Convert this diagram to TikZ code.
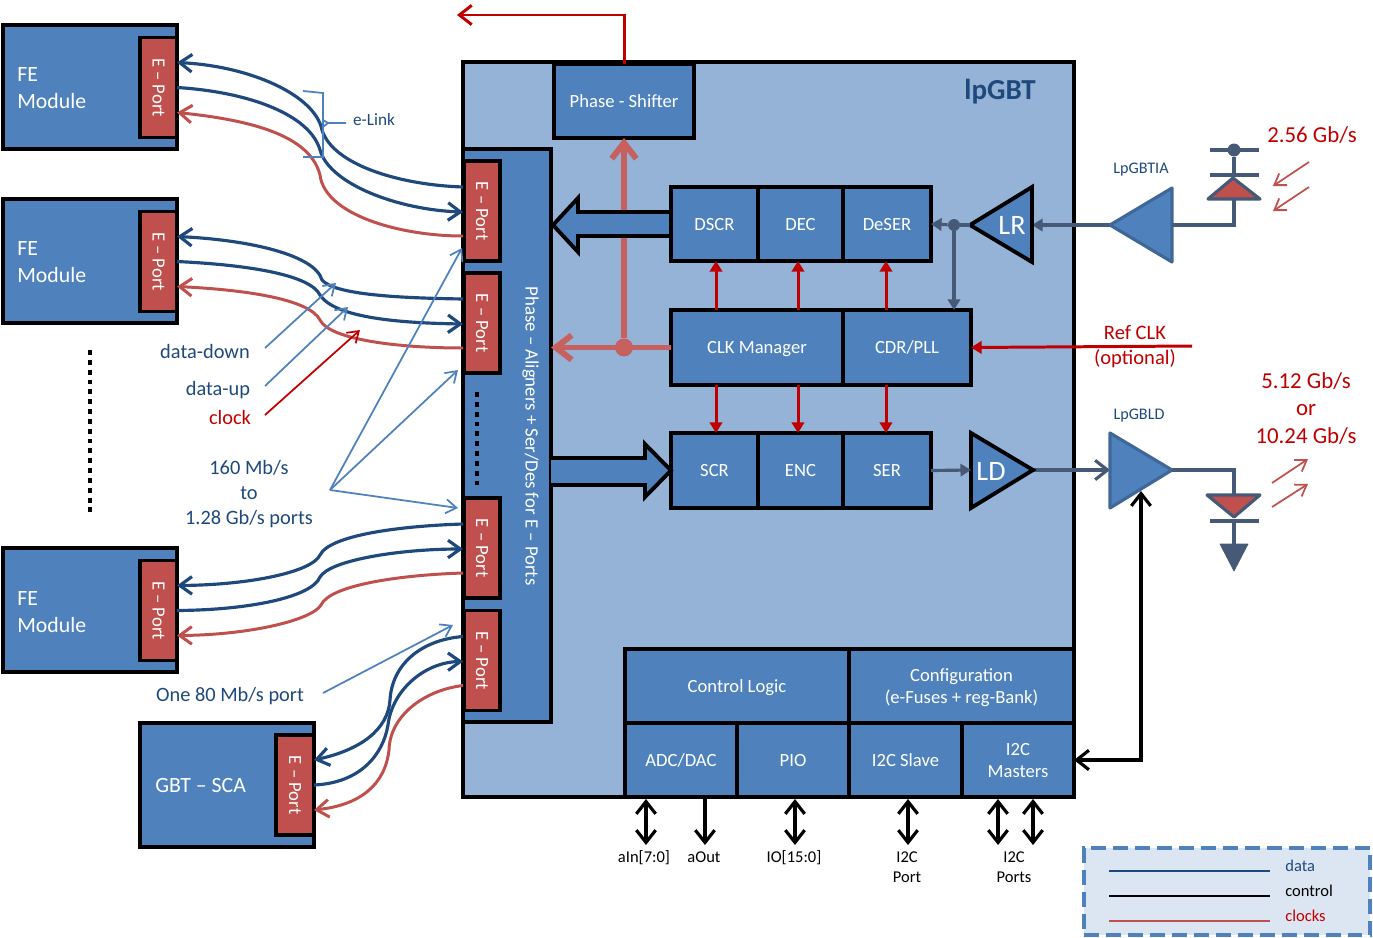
\documentclass[tikz,border=0pt]{standalone}
\usepackage{fontspec}
\usepackage{graphicx}
\setmainfont{Carlito}
\usetikzlibrary{arrows.meta,calc,positioning}
\definecolor{blokMavi}{HTML}{4F81BD}
\definecolor{zeminMavi}{HTML}{95B3D7}
\definecolor{koyuMavi}{HTML}{1F497D}
\definecolor{portKirmizi}{HTML}{C0504D}
\definecolor{saatKirmizi}{HTML}{C00000}
\definecolor{griMavi}{HTML}{465A78}
\definecolor{aciklama}{HTML}{DCE6F2}

\begin{document}
\begin{tikzpicture}[x=0.02cm,y=-0.02cm,
  bsize/.style n args={2}{minimum width=#1*0.02cm,minimum height=#2*0.02cm},
  blok/.style={draw=black,fill=blokMavi,line width=2.2pt,inner sep=0pt,outer sep=0pt,text=white,align=center,
               text depth=-1.2pt,font=\fontsize{10.6}{12.5}\selectfont},
  eport/.style={blok,text depth=,fill=portKirmizi,bsize={36}{100}},
  fekutu/.style={blok,bsize={174}{124}},
  fetext/.style={text=white,align=left,anchor=west,inner sep=0pt,font=\fontsize{12.4}{15.3}\selectfont},
  etiket/.style={text=koyuMavi,align=center,inner sep=0pt,font=\fontsize{11.6}{14.2}\selectfont},
  kucuk/.style={text=black,align=center,inner sep=0pt,font=\fontsize{9.4}{11.4}\selectfont},
  hiz/.style={text=saatKirmizi,align=center,inner sep=0pt,font=\fontsize{13}{15.6}\selectfont},
  data/.style={koyuMavi,line width=1.8pt},
  saat/.style={portKirmizi,line width=1.7pt},
  ucdata/.style={-{Straight Barb[length=7pt,width=10pt]}},
  isaret/.style={blokMavi,line width=1pt,-{Straight Barb[length=6pt,width=8pt]}},
  kontrol/.style={black,line width=1.8pt,{Straight Barb[length=7pt,width=11pt]}-{Straight Barb[length=7pt,width=11pt]}},
  kalinSaat/.style={color=portKirmizi!90!white,line width=3.4pt,-{Straight Barb[length=9pt,width=14pt]}},
  inceSaat/.style={saatKirmizi,line width=1.7pt,-{Triangle[length=6pt,width=7pt]}},
  griOk/.style={griMavi,line width=1.8pt,-{Triangle[length=6pt,width=7pt]}},
  griHat/.style={griMavi,line width=1.8pt},
  genisOk/.style={draw=black,fill=blokMavi,line width=2.2pt,line join=miter},
  yukselt/.style={draw=blokMavi!80!black,fill=blokMavi,line width=1.8pt,line join=round},
  isik/.style={portKirmizi,line width=1pt,-{Straight Barb[length=6pt,width=8pt]}},
  noktali/.style={black,line width=2.8pt,dash pattern=on 2.8pt off 2.8pt}]
\useasboundingbox (0,0) rectangle (1373,937);

% FE modules
\node[fekutu] (feA) at (90,87) {};
\node[fekutu] (feB) at (90,261) {};
\node[fekutu] (feC) at (90,610) {};
\node[fekutu] (sca) at (227,785) {};
\node[eport,bsize={37}{100}] (fePortA) at (158.5,87.5) {\rotatebox{-90}{E -- Port}};
\node[eport,bsize={37}{100}] (fePortB) at (158.5,261.5) {\rotatebox{-90}{E -- Port}};
\node[eport,bsize={37}{100}] (fePortC) at (158.5,610.5) {\rotatebox{-90}{E -- Port}};
\node[eport,bsize={38}{100}] (scaPort) at (295,785) {\rotatebox{-90}{E -- Port}};
\node[fetext] (feTextA) at (17,88) {FE\\Module};
\node[fetext] (feTextB) at (17,262) {FE\\Module};
\node[fetext] (feTextC) at (17,612) {FE\\Module};
\node[fetext] (scaText) at (155,785) {GBT -- SCA};

% lpGBT
\node[blok,fill=zeminMavi,bsize={611}{735}] (lpgbt) at (768.5,429.5) {};
\node[anchor=center,text=koyuMavi,inner sep=0pt,font=\fontsize{16.5}{20}\selectfont\bfseries] (lpgbtText) at (1000,92) {lpGBT};
\node[blok,bsize={88}{573}] (aligner) at (507,435.5) {};
\node[text=white,inner sep=0pt,font=\fontsize{10.7}{13}\selectfont] (alignerText) at (530.5,436) {\rotatebox{-90}{Phase -- Aligners + Ser/Des for E -- Ports}};
\node[eport] (portA) at (482,211) {\rotatebox{-90}{E -- Port}};
\node[eport] (portB) at (482,323) {\rotatebox{-90}{E -- Port}};
\node[eport] (portC) at (482,548) {\rotatebox{-90}{E -- Port}};
\node[eport] (portD) at (482,660.5) {\rotatebox{-90}{E -- Port}};

\node[blok,bsize={140}{74}] (shifter) at (624,101) {Phase - Shifter};
\node[blok,bsize={87}{74}] (dscr) at (714.5,224) {DSCR};
\node[blok,bsize={85}{74}] (dec) at (800.5,224) {DEC};
\node[blok,bsize={88}{74}] (deser) at (887,224) {DeSER};
\node[blok,bsize={172}{75}] (clkman) at (757,347.5) {CLK Manager};
\node[blok,bsize={128}{75}] (cdr) at (907,347.5) {CDR/PLL};
\node[blok,bsize={87}{75}] (scr) at (714.5,470.5) {SCR};
\node[blok,bsize={85}{75}] (enc) at (800.5,470.5) {ENC};
\node[blok,bsize={88}{75}] (ser) at (887,470.5) {SER};
\node[blok,bsize={224}{74}] (ctrl) at (737,686) {Control Logic};
\node[blok,bsize={225}{74}] (conf) at (961.5,686) {Configuration\\(e-Fuses + reg-Bank)};
\node[blok,bsize={112}{74}] (adc) at (681,760) {ADC/DAC};
\node[blok,bsize={112}{74}] (pio) at (793,760) {PIO};
\node[blok,bsize={113}{74}] (slave) at (905.5,760) {I2C Slave};
\node[blok,bsize={112}{74}] (master) at (1018,760) {I2C\\Masters};

% e-port end points
\foreach \p in {fePortA,fePortB,fePortC,scaPort}{
  \coordinate (\p a) at ($(\p.north east)!0.25!(\p.south east)$);
  \coordinate (\p b) at ($(\p.north east)!0.5!(\p.south east)$);
  \coordinate (\p c) at ($(\p.north east)!0.75!(\p.south east)$);
}
\foreach \p in {portA,portB,portC,portD}{
  \coordinate (\p a) at ($(\p.north west)!0.26!(\p.south west)+(-1,0)$);
  \coordinate (\p b) at ($(\p.north west)!0.51!(\p.south west)+(-1,0)$);
  \coordinate (\p c) at ($(\p.north west)!0.75!(\p.south west)+(-1,0)$);
}

% e-links
\draw[data,ucdata] (portAa) .. controls (400,185) and (333,165) .. (322,130) .. controls (315,95) and (250,66) .. (fePortAa);
\draw[data,ucdata] (fePortAb) .. controls (250,92) and (310,115) .. (320,150) .. controls (330,185) and (400,210) .. (portAb);
\draw[saat,ucdata] (portAc) .. controls (400,236) and (325,215) .. (320,175) .. controls (310,135) and (250,120) .. (fePortAc);
\draw[data,ucdata] (portBa) .. controls (400,298) and (335,295) .. (322,280) .. controls (315,255) and (250,240) .. (fePortBa);
\draw[data,ucdata] (fePortBb) .. controls (250,265) and (310,275) .. (320,295) .. controls (335,318) and (400,323) .. (portBb);
\draw[saat,ucdata] (portBc) .. controls (400,348) and (330,340) .. (320,320) .. controls (310,300) and (250,290) .. (fePortBc);
\draw[data,ucdata] (portCa) .. controls (400,526) and (330,535) .. (320,555) .. controls (312,572) and (250,585) .. (fePortCa);
\draw[data,ucdata] (fePortCb) .. controls (250,610) and (312,597) .. (320,577) .. controls (330,560) and (400,549) .. (portCb);
\draw[saat,ucdata] (portCc) .. controls (400,575) and (330,585) .. (321,605) .. controls (312,620) and (250,635) .. (fePortCc);
\draw[data,ucdata] (portDa) .. controls (420,640) and (392,665) .. (390,700) .. controls (388,730) and (360,750) .. (scaPorta);
\draw[data,ucdata] (scaPortb) .. controls (360,783) and (383,755) .. (388,725) .. controls (392,690) and (425,662) .. (portDb);
\draw[saat,ucdata] (portDc) .. controls (425,690) and (390,715) .. (389,750) .. controls (385,785) and (360,805) .. (scaPortc);

% labels on the left
\node[text=koyuMavi,inner sep=0pt,font=\fontsize{9.8}{12}\selectfont] (elink) at (374,120) {e-Link};
\draw[blokMavi,line width=1pt] (303,91) -- (323,93) -- (323,157) -- (303,157);
\draw[blokMavi,line width=1pt] (323,120) -- (328,123) -- (346,123) (328,123) -- (323,127);
\node[etiket] (down) at (205,351) {data-down};
\node[etiket] (up) at (218,390) {data-up};
\node[etiket,text=saatKirmizi] (clock) at (230,417) {clock};
\node[etiket] (rates) at (249,494) {160 Mb/s\\to\\1.28 Gb/s ports};
\node[etiket] (slow) at (230,696) {One 80 Mb/s port};
\coordinate (downEnd) at (336,283);
\coordinate (upEnd) at (348,307);
\coordinate (clockEnd) at (360,330);
\coordinate (rateFrom) at (330,490);
\draw[isaret] (265,348) -- (downEnd);
\draw[isaret] (265,386) -- (upEnd);
\draw[isaret,saatKirmizi] (265,415) -- (clockEnd);
\draw[isaret] (rateFrom) -- (462,248);
\draw[isaret] (rateFrom) -- (458,370);
\draw[isaret] (rateFrom) -- (458,508);
\draw[isaret] (323,693) -- (453,625);
\draw[noktali] (90,350) -- (90,512);
\draw[noktali] (477,392) -- (477,488);

% clock tree
\coordinate (cikis) at (457,15);
\node[circle,fill=portKirmizi!90!white,inner sep=0pt,minimum size=0.36cm] (saatNokta) at (clkman.west -| shifter.south) {};
\draw[saatKirmizi,line width=1.7pt,-{Straight Barb[length=7pt,width=11pt]}] (shifter.north) |- (cikis);
\draw[kalinSaat] (saatNokta) -- (shifter.south);
\draw[kalinSaat] (clkman.west) -- (aligner.east |- clkman.west);
\foreach \x in {716,798,886}{
  \coordinate (kol) at (\x,0);
  \draw[inceSaat] (kol |- clkman.north) -- (kol |- dscr.south);
  \draw[inceSaat] (kol |- clkman.south) -- (kol |- scr.north);
}

% data paths
\draw[genisOk] (dscr.west) ++(0,-12) -- ++(-93,0) -- ++(0,-14) -- (553,225) -- (578,252) -- ++(0,-16) -- ++(93,0) -- cycle;
\draw[genisOk] (aligner.east |- 0,458) -- (645,458) -- (645,444) -- (scr.west) -- (645,497) -- (645,485) -- (aligner.east |- 0,485);

% amplifiers
\coordinate (lrTip) at (970,225);
\coordinate (lrBase) at (1032,225);
\coordinate (ldTip) at (1033,470);
\coordinate (ldBase) at (971,470);
\coordinate (tiaTip) at (1110,225);
\coordinate (tiaBase) at (1172,225);
\coordinate (lpldTip) at (1172,470);
\coordinate (lpldBase) at (1110,470);
\coordinate (lpldBot) at (1141,491);
\draw[griOk] (tiaTip) -- (lrBase);
\draw[griHat,-{Straight Barb[length=7pt,width=11pt]}] (ldTip) -- (lpldBase);
\draw[genisOk] (lrTip) -- (1032,187) -- (1032,262) -- cycle;
\draw[genisOk] (ldTip) -- (971,433) -- (971,508) -- cycle;
\draw[yukselt] (tiaTip) -- (1172,188) -- (1172,262) -- cycle;
\draw[yukselt] (lpldTip) -- (1110,433) -- (1110,508) -- cycle;
\node[text=white,inner sep=0pt,font=\fontsize{16}{19}\selectfont] (lrText) at (1012,225) {LR};
\node[text=white,inner sep=0pt,font=\fontsize{16}{19}\selectfont] (ldText) at (991,471) {LD};
\node[text=koyuMavi,inner sep=0pt,font=\fontsize{9.2}{11}\selectfont] (tiaText) at (1141,170) {LpGBTIA};
\node[text=koyuMavi,inner sep=0pt,font=\fontsize{9.2}{11}\selectfont] (lpldText) at (1139,416) {LpGBLD};

% serial lines
\node[circle,fill=griMavi,inner sep=0pt,minimum size=0.24cm] (griNokta) at (954,225) {};
\draw[griOk] (griNokta) -- (deser.east);
\draw[griHat] (griNokta) -- (lrTip);
\draw[griOk] (griNokta) -- (griNokta |- cdr.north);
\draw[griOk] (ser.east) -- (ldBase);

% photodiode
\coordinate (pdTop) at (1234,150);
\coordinate (pdBar) at (1234,175);
\coordinate (pdBot) at (1234,199);
\node[circle,fill=griMavi,inner sep=0pt,minimum size=0.26cm] (pdNokta) at (pdTop) {};
\draw[griHat] (tiaBase) -| (pdBot);
\draw[griHat] (pdNokta) -- (pdBar);
\draw[griHat] (1210,150) -- (1259,150);
\draw[griHat,line width=2.6pt] (1210,175) -- (1259,175);
\draw[draw=griMavi,fill=portKirmizi,line width=1.8pt,line join=round] (1233,178) -- (1260,199) -- (1208,199) -- cycle;
\draw[isik] (1309,162) -- (1273,186);
\draw[isik] (1309,187) -- (1273,211);
\node[hiz] (rxRate) at (1312,135) {2.56 Gb/s};

% laser
\coordinate (ldTop) at (1234,495);
\coordinate (ldBar) at (1234,521);
\coordinate (gndTop) at (1234,544);
\draw[griHat] (lpldTip) -| (ldTop);
\draw[griHat] (ldBar) -- (gndTop);
\draw[draw=griMavi,fill=portKirmizi,line width=1.8pt,line join=round] (1234,517) -- (1207,495) -- (1260,495) -- cycle;
\draw[griHat,line width=2.6pt] (1210,521) -- (1259,521);
\draw[griMavi,fill=griMavi,line join=round] (1220,544) -- (1248,544) -- (1234,571) -- cycle;
\draw[isik] (1272,483) -- (1308,459);
\draw[isik] (1272,507) -- (1308,484);
\node[hiz] (txRate) at (1306,408.5) {5.12 Gb/s\\or\\10.24 Gb/s};

% reference clock
\node[hiz,font=\fontsize{11.7}{14.2}\selectfont] (refText) at (1135,347) {Ref CLK\\(optional)};
\coordinate (refFrom) at (1192,346);
\draw[inceSaat] (refFrom) -- (cdr.east);

% control
\draw[kontrol] (master.east) -| (lpldBot);
\foreach \x/\n in {646/ain,795/io,908/sl,998/ma,1033/mb}{
  \coordinate (\n Top) at (\x,799);
  \coordinate (\n End) at (\x,845);
  \draw[kontrol] (\n Top) -- (\n End);
}
\coordinate (aoutTop) at (705,795);
\coordinate (aoutEnd) at (705,845);
\draw[black,line width=1.8pt,-{Straight Barb[length=7pt,width=11pt]}] (aoutTop) -- (aoutEnd);
\node[kucuk] (ainText) at (644,858) {aIn[7:0]};
\node[kucuk] (aoutText) at (704,857) {aOut};
\node[kucuk] (ioText) at (794,858) {IO[15:0]};
\node[kucuk,anchor=north] (slText) at (907,851) {I2C\\Port};
\node[kucuk,anchor=north] (maText) at (1014,851) {I2C\\Ports};

% legend
\node[draw=blokMavi,fill=aciklama,line width=2.2pt,dash pattern=on 8.5pt off 4pt,inner sep=0pt,bsize={286}{87}] (legend) at (1227,891.5) {};
\draw[data,line width=1pt] (1109,871) -- (1270,871);
\draw[black,line width=1pt] (1109,896) -- (1270,896);
\draw[saat,line width=1pt] (1109,921) -- (1270,921);
\node[kucuk,anchor=west,text=koyuMavi] (legData) at (1285,866) {data};
\node[kucuk,anchor=west] (legCtrl) at (1285,891) {control};
\node[kucuk,anchor=west,text=saatKirmizi] (legClk) at (1285,916) {clocks};
\end{tikzpicture}
\end{document}
